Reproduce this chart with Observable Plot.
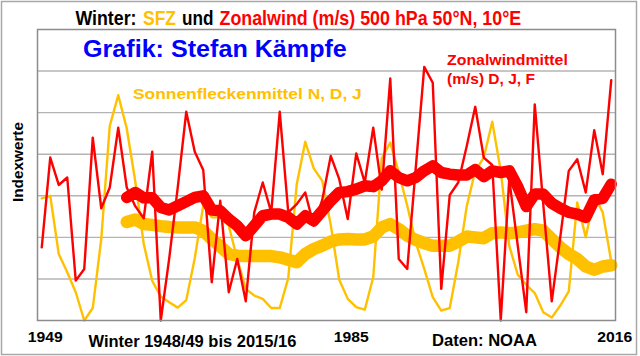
<!DOCTYPE html>
<html><head><meta charset="utf-8">
<script src="https://cdn.jsdelivr.net/npm/d3@7"></script>
<script src="https://cdn.jsdelivr.net/npm/@observablehq/plot@0.6"></script>
<style>
html,body{margin:0;padding:0;background:#fff;}
#wrap{position:relative;width:640px;height:356px;overflow:hidden;background:#fff;}
#wrap svg{position:absolute;left:0;top:0;}
</style></head><body><div id="wrap"></div>
<script>
// ---- data ----
const firstYear = 1949, lastYear = 2016, meanStartYear = 1959;
// Zonalwind (m/s) D, J, F – index units
const zonalwind = [1.76,3.92,3.26,3.44,0.96,1.24,4.40,2.70,3.20,4.64,
  3.20,2.75,2.46,4.06,0.00,1.50,3.20,5.02,4.06,3.62,
  0.92,2.88,0.68,1.48,0.46,2.60,3.32,2.60,5.02,2.60,
  2.80,3.08,2.28,2.90,3.96,3.40,2.44,4.02,3.32,4.64,
  3.15,5.82,1.48,1.24,3.67,6.10,5.72,0.76,3.02,3.32,
  4.20,5.14,3.92,3.74,0.00,3.40,1.80,0.20,5.20,2.80,
  0.46,2.00,3.60,3.88,3.08,4.58,3.52,5.78];
// Sonnenflecken N, D, J
const sfz = [2.94,3.00,1.60,1.16,0.68,0.00,0.30,1.96,4.68,5.42,
  4.62,3.35,1.84,0.95,0.58,0.44,0.31,0.49,1.50,2.76,
  2.48,2.48,2.28,1.48,0.76,0.60,0.52,0.30,0.30,1.02,
  3.28,4.30,3.66,3.36,2.30,0.98,0.52,0.32,0.26,1.04,
  3.90,4.28,3.56,2.76,1.88,1.24,0.56,0.24,0.30,1.40,
  2.75,3.60,3.92,4.78,3.60,1.80,1.10,0.86,0.66,0.20,
  0.07,0.36,0.70,2.84,2.00,3.00,2.60,1.42];
// smoothed lines (from 1959)
const zonalwindMittel = [2.96,3.08,2.95,2.95,2.72,2.66,2.76,2.86,2.96,3.00,
  2.66,2.64,2.44,2.28,2.04,2.28,2.52,2.56,2.56,2.48,
  2.32,2.52,2.40,2.64,2.88,3.08,3.10,3.16,3.24,3.22,
  3.36,3.60,3.44,3.36,3.44,3.60,3.72,3.56,3.52,3.50,
  3.50,3.63,3.46,3.60,3.56,3.60,3.22,2.74,3.04,3.04,
  2.82,2.70,2.60,2.56,2.48,2.90,2.94,3.28];
const sfzMittel = [2.37,2.43,2.32,2.30,2.27,2.25,2.24,2.24,2.24,2.16,
  1.96,1.78,1.60,1.56,1.55,1.55,1.55,1.55,1.52,1.46,
  1.40,1.60,1.72,1.80,1.90,1.95,1.96,1.95,1.95,2.02,
  2.24,2.32,2.20,2.04,1.94,1.86,1.80,1.80,1.80,1.90,
  2.02,2.00,1.98,2.10,2.12,2.10,2.12,2.16,2.20,2.16,
  1.96,1.76,1.60,1.48,1.30,1.22,1.30,1.33];
const gridValues = [1,2,3,4,5,6];
const yearTicks = [1949, 1985, 2016];
const yearTickLabels = ["1949", "1985", "2016"];

const RED = "#ff0000", YELLOW = "#ffc000", BLUE = "#0000ff";

const rows = (arr, start) => arr.map((v, i) => ({year: start + i, value: v}));
const windRows = rows(zonalwind, firstYear);
const sfzRows = rows(sfz, firstYear);
const windMeanRows = rows(zonalwindMittel, meanStartYear);
const sfzMeanRows = rows(sfzMittel, meanStartYear);
const tickRows = yearTicks.map((y, i) => ({year: y, label: yearTickLabels[i]}));

const chart = Plot.plot({
  width: 640, height: 356,
  marginLeft: 37, marginRight: 25, marginTop: 29, marginBottom: 36,
  x: {domain: [firstYear - 0.5, lastYear + 0.5], axis: null},
  y: {domain: [0, 7], axis: null},
  style: {background: "transparent", overflow: "visible"},
  marks: [
    Plot.ruleY(gridValues, {stroke: "#b4b4b4", strokeWidth: 1.4}),
    Plot.lineY(sfzRows, {x: "year", y: "value", stroke: YELLOW, strokeWidth: 2.4, strokeLinejoin: "round"}),
    Plot.lineY(sfzMeanRows, {x: "year", y: "value", stroke: YELLOW, strokeWidth: 12.5, strokeLinejoin: "round", strokeLinecap: "round"}),
    Plot.lineY(windRows, {x: "year", y: "value", stroke: RED, strokeWidth: 2.4, strokeLinejoin: "round"}),
    Plot.lineY(windMeanRows, {x: "year", y: "value", stroke: RED, strokeWidth: 11.5, strokeLinejoin: "round", strokeLinecap: "round"}),
    Plot.frame({stroke: "#8c8c8c", strokeWidth: 1.5}),
    Plot.text(tickRows, {x: "year", text: "label", frameAnchor: "bottom", lineAnchor: "bottom", dy: 21.5, dx: 3.5,
      fontSize: 14, fontWeight: "bold", fill: "#000", fontFamily: "'Liberation Sans', Arial, sans-serif"})
  ]
});
const wrap = document.getElementById("wrap");
wrap.appendChild(chart);
// year label widths
d3.select(chart).selectAll("text").filter(function(){ return /^\d{4}$/.test(this.textContent); })
  .attr("textLength", 35).attr("lengthAdjust", "spacingAndGlyphs");

// ---- annotations overlay ----
const ov = d3.create("svg").attr("width", 640).attr("height", 356)
  .style("font-family", "'Liberation Sans', Arial, sans-serif").style("font-weight", "bold");
wrap.appendChild(ov.node());
ov.append("rect").attr("x", 1.5).attr("y", 1.5).attr("width", 635).attr("height", 353)
  .attr("fill", "none").attr("stroke", "#a8a8a8").attr("stroke-width", 1.5);

const NARROW = "'Liberation Sans Narrow', 'Arial Narrow', 'Liberation Sans', Arial, sans-serif";
// place a text at (x, y) and squeeze/stretch it horizontally to the wanted width
function label(str, x, y, size, color, len, family, rotate) {
  const t = ov.append("text").attr("font-size", size).attr("fill", color).text(str);
  if (family) t.style("font-family", family);
  const w = t.node().getComputedTextLength() || len;
  const s = len / w;
  t.attr("transform", `translate(${x},${y})${rotate ? ` rotate(${rotate})` : ""} scale(${s.toFixed(4)},1)`);
  return t;
}
// title in four coloured pieces
label("Winter:", 75.5, 24.5, 21, "#000", 61, NARROW);
label("SFZ", 143, 24.5, 21, YELLOW, 33, NARROW);
label("und", 182, 24.5, 21, "#000", 31.5, NARROW);
label("Zonalwind (m/s) 500 hPa 50°N, 10°E", 219.5, 24.5, 21, RED, 302, NARROW);

label("Grafik: Stefan Kämpfe", 83, 56.5, 23, BLUE, 264);
label("Sonnenfleckenmittel N, D, J", 133, 98.5, 15, YELLOW, 229);
label("Zonalwindmittel", 447, 64.5, 15, RED, 121);
label("(m/s) D, J, F", 447, 84, 15, RED, 88);
label("Winter 1948/49 bis 2015/16", 88.5, 346.5, 16, "#000", 208);
label("Daten: NOAA", 432, 346, 16, "#000", 105);
label("Indexwerte", 23, 202, 14.5, "#000", 80, null, -90);
</script></body></html>
